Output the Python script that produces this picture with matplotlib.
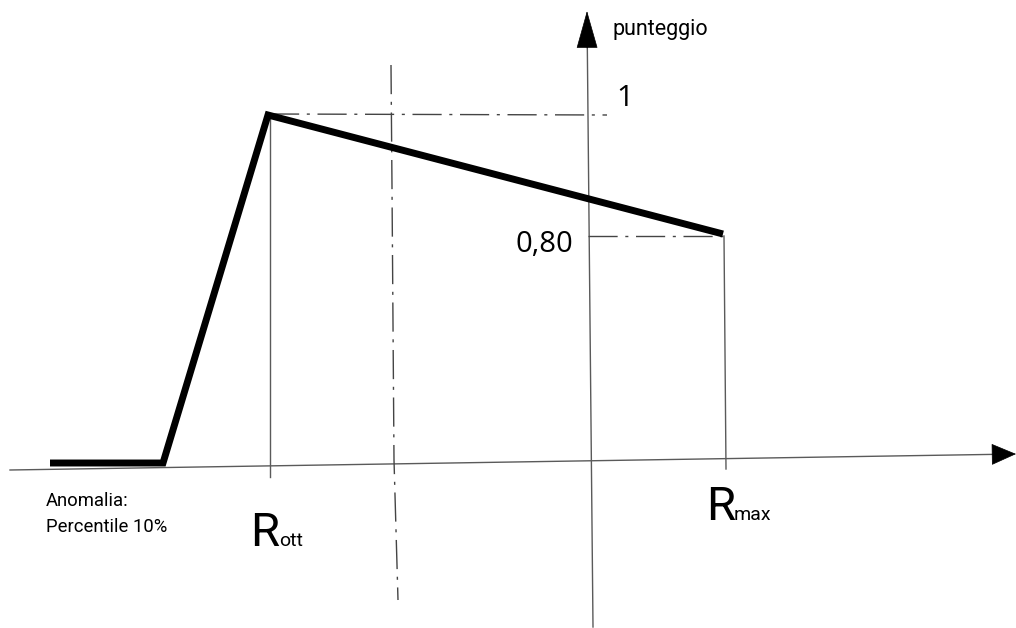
import matplotlib
matplotlib.use("Agg")
import matplotlib.pyplot as plt

plt.rcParams['lines.scale_dashes'] = False

# Schematic data (drawing units, y grows downward)
curve_x = [50, 163, 268, 723]
curve_y = [463, 463, 115, 234]

xaxis_x = [10, 1016]
xaxis_y = [470, 454]
yaxis_x = [593, 587]
yaxis_y = [627, 11]

rott_x = [270, 270]
rott_y = [115, 477]
rmax_x = [724, 726]
rmax_y = [236, 469]

ref1_x = [270, 607]
ref1_y = [114, 115]
ref08_x = [588, 723]
ref08_y = [236, 236]
vdash_x = [391, 392, 394, 398]
vdash_y = [65, 187, 460, 600]

labels = {
    'punteggio': 'punteggio',
    'one': '1',
    'p80': '0,80',
    'anom1': 'Anomalia:',
    'anom2': 'Percentile 10%',
}

fig = plt.figure(figsize=(10.16, 6.28), dpi=100)
ax = fig.add_axes([0, 0, 1, 1])
ax.set_xlim(0, 1016)
ax.set_ylim(628, 0)
ax.axis('off')

thin = '#5a5a5a'
dd = (0, (21, 5.5, 2.2, 5.5))

# axes lines
ax.plot(xaxis_x[:1] + [xaxis_x[1] - 18], [xaxis_y[0], xaxis_y[1] + 0.3], color=thin, lw=1.0)
ax.annotate('', xy=(xaxis_x[1], xaxis_y[1]), xytext=(xaxis_x[1] - 22, xaxis_y[1] + 0.35),
            arrowprops=dict(arrowstyle='-|>,head_length=1.5,head_width=0.65', color='black',
                            lw=0.5, mutation_scale=11, shrinkA=0, shrinkB=0))
ax.plot([yaxis_x[0], yaxis_x[1] + 0.3], [yaxis_y[0], yaxis_y[1] + 34], color=thin, lw=1.0)
ax.annotate('', xy=(yaxis_x[1], yaxis_y[1]), xytext=(yaxis_x[1] + 0.1, yaxis_y[1] + 37),
            arrowprops=dict(arrowstyle='-|>,head_length=2.3,head_width=0.65', color='black',
                            lw=0.5, mutation_scale=11, shrinkA=0, shrinkB=0))

# thin verticals
ax.plot(rott_x, rott_y, color=thin, lw=1.0)
ax.plot(rmax_x, rmax_y, color=thin, lw=1.0)

# dash-dot reference lines
ax.plot(ref1_x, ref1_y, color='#444444', lw=1.0, linestyle=dd)
ax.plot(ref08_x, ref08_y, color='#444444', lw=1.0, linestyle=dd)
ax.plot(vdash_x, vdash_y, color='#444444', lw=1.0, linestyle=dd)

# main curve
ax.plot(curve_x, curve_y, color='black', lw=5.0, solid_joinstyle='miter',
        solid_capstyle='butt')

narrow = ['Liberation Sans Narrow', 'Roboto', 'DejaVu Sans']
ax.text(613, 29, labels['punteggio'], family=narrow, fontsize=15.5, va='center', ha='left')
ax.text(616, 99, labels['one'], family=['Open Sans', 'DejaVu Sans'],
        fontsize=21.5, va='center', ha='left')
ax.text(573, 244, labels['p80'], family=['Open Sans', 'DejaVu Sans'],
        fontsize=21, va='center', ha='right')
ax.text(46, 501, labels['anom1'], family=narrow, fontsize=13.3, va='center', ha='left')
ax.text(46, 527, labels['anom2'], family=narrow, fontsize=13.3, va='center', ha='left')

ax.text(250, 546, 'R', family=narrow, fontsize=34, va='baseline', ha='left')
ax.text(279, 546, 'ott', family=narrow, fontsize=14, va='baseline', ha='left')
ax.text(706, 520, 'R', family=narrow, fontsize=34, va='baseline', ha='left')
ax.text(734, 520, 'max', family=narrow, fontsize=14, va='baseline', ha='left')

fig.savefig('out.png', dpi=100)
